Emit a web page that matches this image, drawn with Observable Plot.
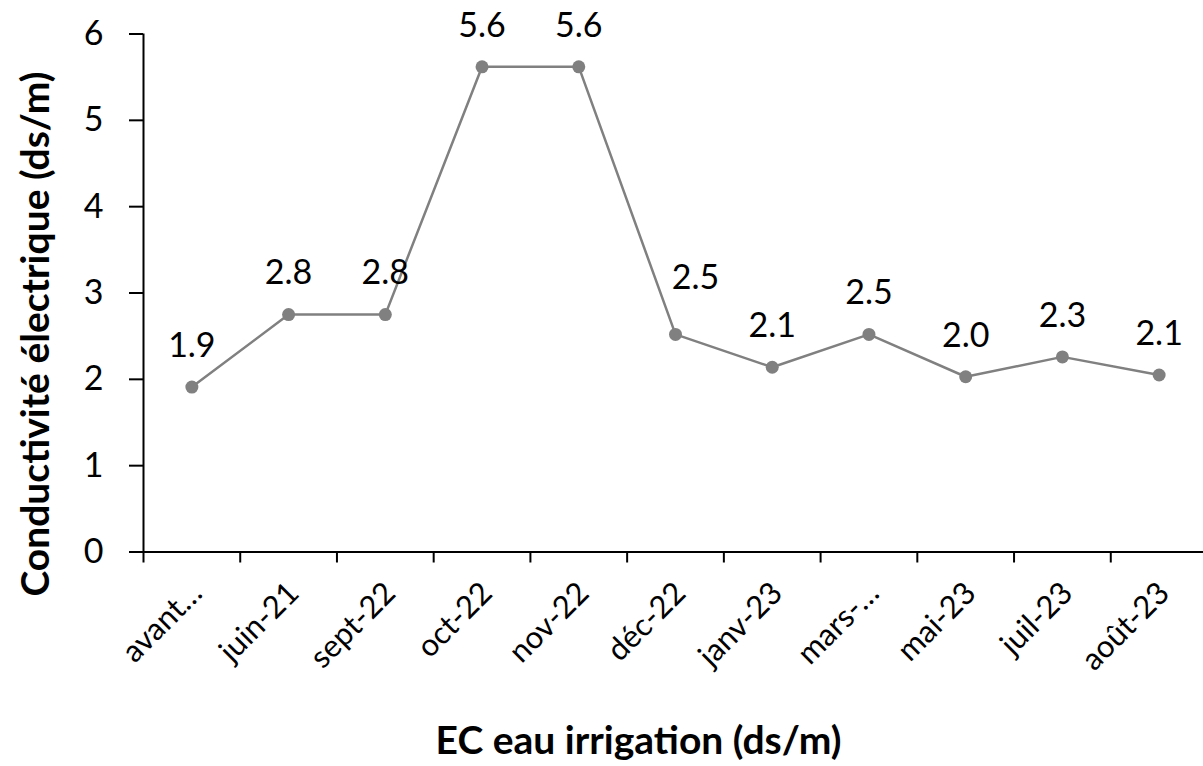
<!DOCTYPE html>
<html>
<head>
<meta charset="utf-8">
<script src="https://cdn.jsdelivr.net/npm/d3@7"></script>
<script src="https://cdn.jsdelivr.net/npm/@observablehq/plot@0.6"></script>
<style>
  html, body { margin: 0; padding: 0; background: #fff; }
  svg { display: block; }
</style>
</head>
<body>
<div id="chart"></div>
<script>
const categories = ["avant…", "juin-21", "sept-22", "oct-22", "nov-22", "déc-22", "janv-23", "mars-…", "mai-23", "juil-23", "août-23"];
const values = [1.91, 2.75, 2.75, 5.62, 5.62, 2.52, 2.14, 2.52, 2.03, 2.26, 2.05];
const valueLabels = ["1.9", "2.8", "2.8", "5.6", "5.6", "2.5", "2.1", "2.5", "2.0", "2.3", "2.1"];
const yTicks = [0, 1, 2, 3, 4, 5, 6];
const xTitle = "EC eau irrigation (ds/m)";
const yTitle = "Conductivité électrique (ds/m)";

const data = categories.map((c, i) => ({cat: c, pos: i + 0.5, value: values[i], label: valueLabels[i]}));
const boundaries = d3.range(0, categories.length + 1);
const centers = data.map(d => d.pos);
const font = "Lato, 'Noto Sans', sans-serif";
const gray = "#808080";

const chart = Plot.plot({
  width: 1203,
  height: 766,
  marginLeft: 143,
  marginRight: -4,
  marginTop: 33.5,
  marginBottom: 214.5,
  style: {fontFamily: font, color: "#000", background: "#fff"},
  x: {type: "linear", domain: [0, categories.length], axis: null},
  y: {domain: [0, 6], axis: null},
  marks: [
    Plot.axisY({ticks: yTicks, tickSize: 14, tickPadding: 26, fontSize: 34, strokeWidth: 2, stroke: "#000", tickFormat: d => String(d), label: null}),
    Plot.axisX({ticks: boundaries, tickSize: 11, tickFormat: () => "", strokeWidth: 2, stroke: "#000", label: null}),
    Plot.axisX({ticks: centers, tickSize: 0, tickPadding: 36, dx: 5, tickRotate: -45, fontSize: 31, tickFormat: p => categories[Math.round(p - 0.5)], label: null}),
    Plot.ruleX([0], {stroke: "#000", strokeWidth: 2}),
    Plot.ruleY([0], {stroke: "#000", strokeWidth: 2}),
    Plot.line(data, {x: "pos", y: "value", stroke: gray, strokeWidth: 2.5}),
    Plot.dot(data, {x: "pos", y: "value", r: 6.5, fill: gray, stroke: "none"}),
    Plot.text(data.filter(d => d.cat !== "déc-22"), {x: "pos", y: "value", text: "label", dy: -41, fontSize: 34, fill: "#000"}),
    Plot.text(data.filter(d => d.cat === "déc-22"), {x: "pos", y: "value", text: "label", dx: 20, dy: -56, fontSize: 34, fill: "#000"}),
    Plot.text([xTitle], {frameAnchor: "bottom-left", textAnchor: "middle", lineAnchor: "middle", dx: 495, dy: 190, fontSize: 39, fontWeight: "bold", fill: "#000"}),
    Plot.text([yTitle], {frameAnchor: "left", textAnchor: "middle", lineAnchor: "middle", rotate: -90, dx: -107, dy: 41, fontSize: 39, fontWeight: "bold", fill: "#000"})
  ]
});
document.getElementById("chart").appendChild(chart);
</script>
</body>
</html>
